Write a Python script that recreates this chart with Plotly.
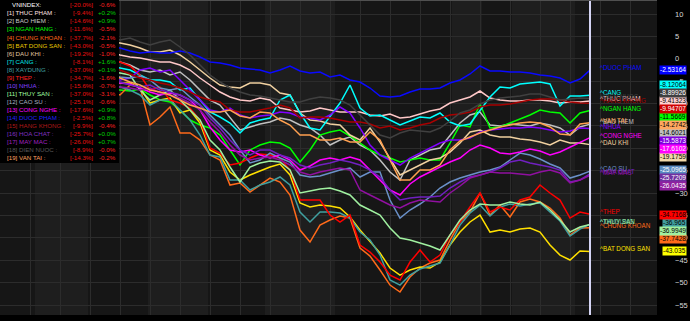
import plotly.graph_objects as go

# ---------------- data ----------------
names = ["THUC PHAM", "BAO HIEM", "NGAN HANG", "CHUNG KHOAN", "BAT DONG SAN",
         "DAU KHI", "CANG", "XAYDUNG", "THEP", "NHUA", "THUY SAN", "CAO SU",
         "CONG NGHE", "DUOC PHAM", "HANG KHONG", "HOA CHAT", "MAY MAC",
         "DIEN NUOC", "VAN TAI"]
period_pct = [-9.4, -14.6, -11.6, -37.7, -43.0, -19.2, -8.1, -37.0, -34.7, -15.6,
              -37.0, -25.1, -17.6, -2.5, -9.9, -25.7, -26.0, -8.9, -14.3]
day_pct = ["+0.2%", "+0.9%", "-0.5%", "-2.1%", "-0.5%", "-1.0%", "+1.6%", "+0.1%",
           "-1.6%", "-0.7%", "-3.1%", "-0.6%", "+0.9%", "+0.8%", "-0.4%", "+0.0%",
           "+0.7%", "-0.0%", "-0.2%"]
index_name = "VNINDEX"
index_period_pct = -20.0
index_day_pct = "-0.6%"

sessions = list(range(49))

thuc_pham = [1.51, 0.84, 0.40, 0.17, -0.27, -0.72, -0.72, -1.39, -2.51, -4.30,
             -5.86, -7.43, -8.54, -9.21, -9.43, -8.76, -9.21, -11.00, -11.44, -11.89,
             -11.66, -11.00, -11.44, -11.89, -11.89, -11.89, -12.56, -12.78, -12.34, -13.23,
             -13.01, -12.34, -11.66, -11.22, -9.88, -9.21, -8.54, -7.20, -8.76, -9.21,
             -9.43, -9.43, -9.21, -9.21, -9.43, -9.88, -9.66, -9.66, -9.41323]
bao_hiem = [-0.27, -0.72, -1.39, -2.51, -2.96, -2.51, -3.63, -2.96, -4.74, -6.98,
            -9.21, -10.33, -13.23, -15.91, -15.24, -14.57, -14.12, -13.23, -13.68, -14.80,
            -15.46, -17.03, -19.26, -18.15, -17.48, -19.26, -20.38, -22.61, -25.29, -27.08,
            -22.61, -21.50, -20.38, -19.93, -17.03, -14.35, -12.56, -11.89, -14.80, -15.02,
            -14.57, -14.80, -15.02, -14.35, -14.80, -15.46, -17.03, -15.24, -14.6021]
ngan_hang = [-6.98, -6.98, -7.20, -6.76, -8.09, -9.21, -9.66, -11.44, -13.68, -14.80,
             -15.46, -17.03, -20.38, -23.73, -20.38, -19.26, -18.60, -18.82, -19.93, -23.06,
             -20.38, -17.03, -16.36, -15.91, -17.25, -18.82, -20.38, -21.50, -22.17, -23.06,
             -22.61, -22.17, -22.61, -22.61, -18.82, -14.80, -15.24, -10.10, -15.46, -15.24,
             -14.35, -13.45, -12.56, -11.44, -11.89, -12.11, -14.35, -12.11, -11.5669]
chung_khoan = [-7.43, -8.09, -5.86, -6.31, -14.80, -13.01, -10.77, -16.58, -16.58, -18.15,
               -21.50, -22.61, -28.20, -27.75, -29.76, -28.20, -26.64, -27.53, -30.43, -38.25,
               -40.93, -37.14, -36.02, -35.12, -35.57, -42.27, -44.06, -47.19, -50.54, -52.10,
               -48.75, -46.74, -45.62, -44.95, -40.49, -36.46, -34.23, -29.98, -34.90, -32.67,
               -35.35, -31.99, -31.33, -31.99, -33.34, -35.57, -39.37, -37.81, -37.7428]
bat_dong_san = [-5.19, -5.41, -5.41, -6.53, -9.88, -9.21, -8.76, -12.11, -11.44, -14.35,
                -20.38, -21.50, -25.29, -27.08, -25.96, -25.07, -24.18, -23.51, -25.96, -32.22,
                -33.11, -32.67, -32.89, -33.34, -35.35, -38.25, -40.93, -43.39, -46.74, -48.31,
                -47.19, -46.52, -46.74, -45.40, -41.60, -38.70, -36.46, -34.90, -38.70, -38.25,
                -38.70, -38.03, -37.81, -38.70, -41.60, -43.84, -44.95, -42.94, -43.035]
dau_khi = [3.75, 3.52, 3.08, 2.40, 1.51, 1.51, 1.96, 0.84, -0.72, -2.51,
           -4.30, -5.86, -6.31, -6.53, -5.41, -5.41, -5.86, -7.65, -8.09, -12.11,
           -13.68, -13.90, -14.57, -14.80, -17.03, -18.15, -15.46, -18.60, -22.17, -25.96,
           -24.85, -23.73, -22.61, -22.17, -20.83, -18.82, -16.36, -15.91, -17.03, -17.48,
           -17.48, -17.92, -18.15, -18.60, -19.26, -18.15, -18.82, -18.82, -19.1759]
cang = [-1.61, -2.06, -2.51, -3.63, -4.74, -4.74, -5.19, -6.98, -6.53, -9.21,
        -11.89, -13.01, -14.35, -16.58, -14.35, -13.68, -13.23, -9.21, -8.09, -12.11,
        -15.46, -15.91, -13.01, -9.88, -5.86, -11.00, -12.78, -12.56, -13.68, -14.80,
        -13.90, -13.01, -13.23, -12.11, -14.12, -15.02, -14.57, -11.44, -8.54, -6.31,
        -6.53, -5.64, -5.41, -5.19, -5.64, -10.55, -8.32, -8.32, -8.12064]
xay_dung = [-5.86, -6.31, -6.98, -8.09, -10.33, -9.21, -9.21, -11.44, -13.68, -17.03,
            -21.50, -21.94, -27.08, -27.08, -29.32, -28.20, -27.53, -26.41, -28.20, -34.23,
            -36.46, -34.23, -34.23, -34.45, -35.57, -38.70, -40.49, -43.84, -49.42, -50.54,
            -48.31, -46.97, -46.30, -45.62, -41.60, -37.14, -34.45, -32.67, -35.12, -33.11,
            -32.44, -32.89, -32.44, -32.22, -34.23, -36.24, -39.59, -38.03, -36.965]
thep = [-0.27, -0.72, -1.61, -3.63, -6.98, -6.31, -9.21, -9.88, -11.00, -13.68,
        -19.93, -21.05, -23.73, -23.28, -22.17, -21.27, -21.50, -22.17, -24.85, -31.55,
        -31.55, -31.55, -34.90, -36.46, -34.90, -41.60, -43.17, -45.40, -48.31, -49.42,
        -45.40, -42.72, -45.40, -43.84, -39.37, -36.46, -33.11, -29.98, -34.23, -33.11,
        -33.78, -31.55, -30.88, -28.20, -29.98, -31.55, -35.57, -34.23, -34.7168]
nhua = [-4.30, -4.74, -4.30, -2.51, -2.06, -2.96, -2.51, -4.74, -6.98, -9.21,
        -11.44, -11.89, -11.00, -12.56, -13.23, -12.78, -12.56, -11.89, -12.11, -13.01,
        -13.23, -13.68, -12.56, -10.77, -12.11, -15.46, -19.26, -21.50, -22.61, -23.73,
        -22.17, -21.05, -19.93, -18.82, -18.15, -18.15, -17.70, -16.36, -15.91, -15.69,
        -15.46, -15.46, -15.24, -15.46, -15.91, -16.36, -16.13, -15.46, -15.5873]
thuy_san = [-2.96, -3.18, -3.63, -6.98, -9.21, -8.09, -6.98, -9.21, -11.44, -13.68,
            -18.15, -20.38, -24.18, -27.53, -24.18, -23.28, -22.84, -23.06, -24.85, -29.98,
            -29.54, -29.09, -28.87, -29.54, -30.43, -32.67, -33.78, -34.90, -37.80, -40.04,
            -40.49, -41.16, -41.83, -42.72, -39.37, -36.02, -33.78, -32.44, -32.67, -32.67,
            -31.99, -32.44, -32.67, -31.99, -33.78, -36.02, -38.70, -37.58, -36.9949]
cao_su = [-3.63, -4.07, -4.30, -3.85, -4.74, -6.53, -6.98, -6.53, -8.54, -10.33,
          -12.56, -14.80, -17.03, -20.38, -23.28, -22.61, -21.05, -22.17, -23.06, -25.96,
          -26.41, -26.19, -25.52, -24.85, -24.40, -26.41, -25.29, -25.29, -31.55, -35.57,
          -33.78, -32.44, -30.88, -28.87, -27.53, -26.64, -25.96, -25.29, -24.85, -24.18,
          -22.61, -21.05, -21.50, -22.39, -23.51, -24.40, -26.64, -25.96, -25.0965]
cong_nghe = [-5.19, -5.41, -5.64, -6.53, -7.43, -8.09, -7.65, -8.09, -9.21, -11.44,
             -15.24, -18.15, -20.38, -20.83, -20.38, -21.50, -22.17, -21.50, -22.61, -24.85,
             -23.95, -22.61, -22.17, -22.61, -21.94, -22.61, -24.85, -27.08, -29.32, -30.43,
             -27.97, -26.41, -25.29, -24.18, -23.06, -22.17, -20.38, -19.26, -19.93, -21.05,
             -21.27, -20.83, -20.16, -20.60, -21.50, -20.83, -19.71, -18.60, -17.6102]
duoc_pham = [2.63, 2.40, 1.74, 1.29, 1.51, 1.29, 1.29, 1.74, 1.29, 0.40,
             -0.72, -0.94, -1.39, -2.06, -2.28, -2.51, -3.18, -2.51, -1.61, -2.73,
             -3.18, -2.96, -4.07, -3.63, -4.74, -5.19, -6.53, -8.32, -8.54, -8.32,
             -7.43, -6.76, -6.76, -6.53, -5.41, -4.74, -3.40, -1.61, -2.73, -2.73,
             -2.96, -2.96, -3.18, -3.63, -3.85, -4.30, -5.41, -4.52, -2.53164]
hang_khong = [-2.06, -2.51, -3.40, -4.30, -4.74, -5.41, -5.86, -6.53, -7.43, -8.54,
              -9.21, -9.66, -11.44, -11.89, -11.89, -11.44, -11.00, -10.33, -11.00, -13.23,
              -13.01, -13.01, -13.23, -13.68, -14.12, -14.12, -14.57, -15.46, -15.02, -15.91,
              -15.46, -14.80, -14.35, -13.23, -12.56, -12.34, -11.89, -10.77, -10.33, -10.33,
              -10.10, -9.66, -9.21, -8.99, -8.99, -9.21, -9.66, -9.88, -9.94707]
hoa_chat = [-4.74, -5.19, -5.86, -6.31, -5.86, -6.98, -7.43, -8.09, -9.21, -10.33,
            -13.23, -15.46, -18.15, -20.38, -21.50, -20.38, -20.38, -21.50, -22.17, -23.73,
            -24.40, -23.73, -23.28, -22.61, -23.06, -23.73, -24.85, -26.41, -29.32, -31.55,
            -31.10, -30.88, -30.88, -30.66, -28.87, -27.53, -26.41, -25.96, -25.29, -24.40,
            -23.06, -22.61, -23.28, -23.73, -24.18, -24.85, -27.53, -27.08, -25.7209]
may_mac = [-5.86, -6.31, -6.53, -6.98, -6.53, -7.65, -8.09, -8.76, -9.88, -11.44,
           -14.12, -16.36, -19.26, -21.50, -22.61, -22.17, -21.94, -22.61, -23.73, -25.29,
           -25.96, -25.29, -24.85, -24.40, -24.85, -29.32, -30.43, -31.55, -32.67, -33.34,
           -32.22, -31.55, -31.77, -31.99, -29.98, -28.42, -26.64, -25.96, -25.29, -25.52,
           -25.52, -25.74, -25.96, -25.29, -24.85, -25.52, -27.75, -27.08, -26.0435]
dien_nuoc = [4.64, 4.19, 4.64, 3.75, 3.08, 3.75, 4.19, 2.63, 0.84, -1.39,
             -3.63, -5.19, -6.53, -7.43, -8.09, -8.32, -8.76, -9.21, -9.66, -9.66,
             -8.99, -8.54, -8.76, -9.21, -10.33, -12.56, -14.80, -17.03, -17.70, -16.58,
             -15.91, -16.13, -16.36, -15.46, -13.90, -12.11, -11.44, -10.10, -9.21, -8.76,
             -8.54, -8.32, -7.87, -7.87, -8.54, -9.21, -8.99, -8.76, -8.89926]
van_tai = [-3.63, -4.30, -5.19, -5.86, -6.98, -7.43, -8.09, -9.21, -10.33, -11.00,
           -11.89, -11.89, -11.44, -12.78, -13.23, -11.89, -12.11, -13.68, -14.80, -17.03,
           -17.03, -18.15, -18.15, -17.70, -18.60, -18.60, -16.36, -18.15, -22.61, -27.08,
           -27.08, -24.85, -24.85, -23.73, -20.38, -18.37, -17.48, -16.58, -15.91, -15.24,
           -14.80, -14.35, -14.12, -14.35, -15.24, -16.81, -17.03, -14.57, -14.2742]

series = [thuc_pham, bao_hiem, ngan_hang, chung_khoan, bat_dong_san, dau_khi, cang,
          xay_dung, thep, nhua, thuy_san, cao_su, cong_nghe, duoc_pham, hang_khong,
          hoa_chat, may_mac, dien_nuoc, van_tai]

y_ticks = list(range(-55, 11, 5))

# ---------------- styles ----------------
line_colors = ["#ffc8c8", "#c0c0c0", "#00ff00", "#ff6a1a", "#ffe000", "#f0d0a0",
               "#00ffff", "#40a0a0", "#ff0000", "#8000ff", "#a0f0a0", "#6a90c8",
               "#ff00ff", "#0a0aff", "#a80000", "#7020c0", "#9010a0", "#404040", "#ffa050"]
legend_colors = ["#ffe0e0", "#c8c8c8", "#00ff00", "#ff6a1a", "#e8c800", "#e0c8a0",
                 "#00e8e8", "#40a0a8", "#ff2020", "#8040ff", "#a0ffa0", "#a8b0c0",
                 "#ff00ff", "#2020ff", "#b01818", "#8030c0", "#a020c0", "#585858", "#ffa060"]
box_colors = ["#ffd0d0", "#c0c0c0", "#00ff00", "#ff6a1a", "#ffff00", "#f0d8a8",
              "#00ffff", "#40a0a0", "#ff0000", "#8000e0", "#a0f0a0", "#5a8ac0",
              "#ff00ff", "#0000ff", "#d00000", "#7030a0", "#9020a0", "#404040", "#ffa860"]
box_text = ["#000000", "#000000", "#000000", "#000000", "#000000", "#000000",
            "#000000", "#000000", "#000000", "#ffffff", "#000000", "#ffffff",
            "#ffffff", "#ffffff", "#ffffff", "#ffffff", "#ffffff", "#ffffff", "#000000"]

FONT = "Liberation Sans"
Y_TOP, Y_BOT = 13.127, -57.23
X_LEFT, X_RIGHT = -11, 54.7
PLOT_W, PLOT_H = 657, 315
LAST = sessions[-1]

fig = go.Figure()

# background bands (in session units)
bands = [(-7.5, -2.2), (3.8, 9.8), (15.5, 22.5), (34.2, 37.2), (40.2, 46.5)]
for b0, b1 in bands:
    fig.add_shape(type="rect", xref="x", yref="paper", x0=b0, x1=b1, y0=0, y1=1,
                  fillcolor="#1e1e1e", line=dict(width=0), layer="below")

for name, col, vals in zip(names, line_colors, series):
    fig.add_trace(go.Scatter(x=sessions, y=vals, mode="lines", name=name,
                             line=dict(color=col, width=1.5), hoverinfo="skip",
                             showlegend=False))

# current-session marker
fig.add_shape(type="line", xref="x", yref="paper", x0=LAST, x1=LAST, y0=0, y1=1,
              line=dict(color="#d4d4f4", width=2), layer="above")
fig.add_shape(type="line", xref="paper", yref="paper", x0=0, x1=1, y0=1, y1=1,
              line=dict(color="#505050", width=2), layer="above")

annotations = []

# end-of-line labels
for name, col, vals in zip(names, line_colors, series):
    annotations.append(dict(x=LAST + 0.8, y=vals[-1], xref="x", yref="y",
                            text="^" + name, showarrow=False, xanchor="left",
                            yanchor="middle", yshift=2.5,
                            font=dict(family=FONT, size=6.3, color=col)))

# value boxes on the right axis, stacked to avoid overlap
def v2px(v):
    return (Y_TOP - v) / (Y_TOP - Y_BOT) * PLOT_H

def px2v(p):
    return Y_TOP - p / PLOT_H * (Y_TOP - Y_BOT)

PITCH = 7.9
order = sorted(range(len(series)), key=lambda k: -series[k][-1])
desired = [v2px(series[k][-1]) for k in order]
groups = [[i] for i in range(len(order))]

def center(g):
    return sum(desired[i] for i in g) / len(g)

changed = True
while changed:
    changed = False
    for j in range(len(groups) - 1):
        g1, g2 = groups[j], groups[j + 1]
        if center(g1) + len(g1) * PITCH / 2 > center(g2) - len(g2) * PITCH / 2:
            groups[j] = g1 + g2
            del groups[j + 1]
            changed = True
            break

pos = {}
for g in groups:
    top = center(g) - len(g) * PITCH / 2 + (0.55 * PITCH if len(g) > 1 else 0)
    for n, i in enumerate(g):
        pos[order[i]] = top + PITCH * (n + 0.5)

for k in range(len(series)):
    annotations.append(dict(x=687 / PLOT_W, y=px2v(pos[k]), xref="paper", yref="y",
                            text=f"{series[k][-1]:.6g}", showarrow=False,
                            xanchor="right", yanchor="middle", bgcolor=box_colors[k],
                            borderpad=0, height=7.6,
                            font=dict(family=FONT, size=6.6, color=box_text[k])))

# legend table (top-left)
fig.add_shape(type="rect", xref="paper", yref="paper", x0=0, x1=119 / PLOT_W,
              y0=1 - 163 / PLOT_H, y1=1, fillcolor="#000000", line=dict(width=0),
              layer="above")

rows = [(index_name + ":", "#ffffff", index_period_pct, index_day_pct, 10)]
for k, name in enumerate(names):
    rows.append((f"[{k + 1}] {name} :", legend_colors[k], period_pct[k], day_pct[k], 5))

LEG_SIZE = 6.2
for r, (label, col, pp, dp, lx) in enumerate(rows):
    yy = 1 - (4.8 + 8.05 * r) / PLOT_H
    annotations.append(dict(x=lx / PLOT_W, y=yy, xref="paper", yref="paper", text=label,
                            showarrow=False, xanchor="left", yanchor="middle",
                            font=dict(family=FONT, size=LEG_SIZE, color=col)))
    annotations.append(dict(x=95 / PLOT_W, y=yy, xref="paper", yref="paper",
                            text=f"[{pp:.1f}%]", showarrow=False, xanchor="right",
                            yanchor="middle",
                            font=dict(family=FONT, size=LEG_SIZE, color="#e81010")))
    annotations.append(dict(x=118 / PLOT_W, y=yy, xref="paper", yref="paper", text=dp,
                            showarrow=False, xanchor="right", yanchor="middle",
                            font=dict(family=FONT, size=LEG_SIZE,
                                      color="#00d000" if dp.startswith("+") else "#ff2020")))

fig.update_layout(
    width=690, height=321,
    margin=dict(l=0, r=33, t=0, b=6),
    paper_bgcolor="#000000", plot_bgcolor="#161616",
    annotations=annotations,
    xaxis=dict(range=[X_LEFT, X_RIGHT], tick0=1, dtick=3, showgrid=True,
               gridcolor="#2c2c2c", gridwidth=1, showticklabels=False, ticks="",
               zeroline=False, showline=False),
    yaxis=dict(range=[Y_BOT, Y_TOP], side="right", tickvals=y_ticks,
               showgrid=True, gridcolor="#2c2c2c", gridwidth=1, zeroline=False,
               ticks="", showline=False, ticklabelstandoff=17,
               tickfont=dict(family=FONT, size=7.5, color="#d8d8d8")),
    showlegend=False,
)

fig.write_html("out.html")
